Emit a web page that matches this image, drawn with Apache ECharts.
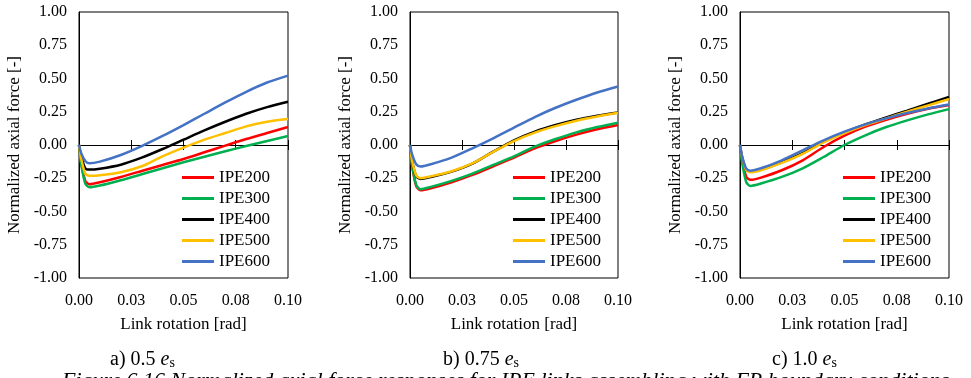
<!DOCTYPE html>
<html>
<head>
<meta charset="utf-8">
<script src="https://cdn.jsdelivr.net/npm/echarts@6/dist/echarts.min.js"></script>
<style>
  html, body { margin: 0; padding: 0; background: #fff; }
  #chart { width: 971px; height: 378px; }
</style>
</head>
<body>
<div id="chart"></div>
<script>
// Link rotation samples [rad]
const rotation = [0, 0.001, 0.003, 0.005, 0.01, 0.02, 0.03, 0.04, 0.05, 0.06, 0.07, 0.08, 0.09, 0.10];

const sections = ['IPE200', 'IPE300', 'IPE400', 'IPE500', 'IPE600'];
const sectionColors = ['#FF0000', '#00B050', '#000000', '#FFC000', '#4472C4'];

// a) 0.5 es
const a_IPE200 = [0, -0.13, -0.27, -0.295, -0.28, -0.24, -0.195, -0.15, -0.105, -0.055, -0.005, 0.045, 0.09, 0.135];
const a_IPE300 = [0, -0.14, -0.29, -0.318, -0.305, -0.265, -0.22, -0.175, -0.13, -0.088, -0.047, -0.008, 0.03, 0.068];
const a_IPE400 = [0, -0.08, -0.175, -0.185, -0.178, -0.148, -0.095, -0.03, 0.04, 0.11, 0.175, 0.235, 0.285, 0.325];
const a_IPE500 = [0, -0.10, -0.215, -0.232, -0.228, -0.205, -0.16, -0.085, -0.02, 0.04, 0.09, 0.14, 0.175, 0.195];
const a_IPE600 = [0, -0.06, -0.12, -0.138, -0.125, -0.075, -0.008, 0.068, 0.15, 0.235, 0.32, 0.40, 0.47, 0.522];

// b) 0.75 es
const b_IPE200 = [0, -0.15, -0.31, -0.34, -0.325, -0.28, -0.225, -0.16, -0.095, -0.025, 0.03, 0.078, 0.118, 0.15];
const b_IPE300 = [0, -0.15, -0.30, -0.332, -0.315, -0.27, -0.215, -0.15, -0.085, -0.012, 0.045, 0.095, 0.135, 0.168];
const b_IPE400 = [0, -0.12, -0.235, -0.255, -0.24, -0.20, -0.14, -0.05, 0.035, 0.10, 0.15, 0.19, 0.22, 0.245];
const b_IPE500 = [0, -0.12, -0.23, -0.25, -0.236, -0.197, -0.138, -0.052, 0.03, 0.093, 0.142, 0.183, 0.215, 0.242];
const b_IPE600 = [0, -0.07, -0.145, -0.162, -0.145, -0.095, -0.025, 0.05, 0.13, 0.21, 0.28, 0.34, 0.395, 0.44];

// c) 1.0 es
const c_IPE200 = [0, -0.11, -0.24, -0.262, -0.245, -0.19, -0.115, -0.015, 0.07, 0.138, 0.19, 0.235, 0.272, 0.30];
const c_IPE300 = [0, -0.13, -0.28, -0.308, -0.29, -0.24, -0.175, -0.09, 0.0, 0.073, 0.135, 0.185, 0.23, 0.27];
const c_IPE400 = [0, -0.09, -0.185, -0.20, -0.185, -0.13, -0.062, 0.025, 0.095, 0.155, 0.208, 0.258, 0.31, 0.362];
const c_IPE500 = [0, -0.09, -0.19, -0.205, -0.19, -0.135, -0.067, 0.02, 0.09, 0.15, 0.20, 0.25, 0.298, 0.345];
const c_IPE600 = [0, -0.085, -0.178, -0.193, -0.175, -0.115, -0.04, 0.035, 0.10, 0.155, 0.20, 0.24, 0.275, 0.305];

const xTickLabels = ['0.00', '0.03', '0.05', '0.08', '0.10'];
const yTickLabels = ['-1.00', '-0.75', '-0.50', '-0.25', '0.00', '0.25', '0.50', '0.75', '1.00'];

const panelTitles = ['a) 0.5 ', 'b) 0.75 ', 'c) 1.0 '];
const xAxisTitle = 'Link rotation [rad]';
const yAxisTitle = 'Normalized axial force [-]';
const captionText = 'Figure 6.16 Normalized axial force responses for IPE links assembling with FR boundary conditions';

const panels = [
  [a_IPE200, a_IPE300, a_IPE400, a_IPE500, a_IPE600],
  [b_IPE200, b_IPE300, b_IPE400, b_IPE500, b_IPE600],
  [c_IPE200, c_IPE300, c_IPE400, c_IPE500, c_IPE600]
];

// layout of the three plot areas
const plotLeft = [79, 410, 740];
const plotWidth = [209, 208, 209];
const plotTop = 12;
const plotHeight = 266;
const legendLeft = [177, 508, 838];
const titleCenter = [148, 481, 810];

const FONT = '"Liberation Serif", "Times New Roman", serif';

const grids = [], xAxes = [], yAxes = [], series = [], legends = [], graphics = [];

panels.forEach((panel, p) => {
  grids.push({
    left: plotLeft[p], top: plotTop, width: plotWidth[p], height: plotHeight,
    show: true, borderColor: '#000', borderWidth: 1, backgroundColor: 'transparent'
  });

  // visible value axis on the left
  yAxes.push({
    type: 'value', gridIndex: p, min: -1, max: 1, interval: 0.25,
    position: 'left',
    name: yAxisTitle, nameLocation: 'middle', nameGap: 56,
    nameTextStyle: { fontFamily: FONT, fontSize: 17, color: '#000' },
    axisLine: { show: true, onZero: false, lineStyle: { color: '#000' } },
    axisTick: { show: false },
    splitLine: { show: false },
    axisLabel: {
      fontFamily: FONT, fontSize: 16, color: '#000', margin: 12,
      formatter: v => yTickLabels[Math.round((v + 1) / 0.25)]
    }
  });
  // companion value axis so a second zero line can sit on it
  yAxes.push({
    type: 'value', gridIndex: p, min: -1, max: 1, interval: 0.25,
    position: 'right',
    axisLine: { show: false, onZero: false },
    axisTick: { show: false },
    axisLabel: { show: false },
    splitLine: { show: false }
  });

  // labelled bottom axis
  xAxes.push({
    type: 'value', gridIndex: p, min: 0, max: 0.1, interval: 0.025,
    position: 'bottom',
    name: xAxisTitle, nameLocation: 'middle', nameGap: 38,
    nameTextStyle: { fontFamily: FONT, fontSize: 17, color: '#000' },
    axisLine: { show: false, onZero: false },
    axisTick: { show: false },
    splitLine: { show: false },
    axisLabel: {
      fontFamily: FONT, fontSize: 16, color: '#000', margin: 15,
      formatter: v => xTickLabels[Math.round(v / 0.025)]
    }
  });
  // zero line with ticks on one side
  xAxes.push({
    type: 'value', gridIndex: p, min: 0, max: 0.1, interval: 0.025,
    position: 'top',
    axisLine: { show: true, onZero: true, onZeroAxisIndex: p * 2, lineStyle: { color: '#000', width: 1 } },
    axisTick: { show: true, length: 5, lineStyle: { color: '#000', width: 1 } },
    axisLabel: { show: false },
    splitLine: { show: false }
  });
  // zero line with ticks on the other side
  xAxes.push({
    type: 'value', gridIndex: p, min: 0, max: 0.1, interval: 0.025,
    position: 'bottom',
    axisLine: { show: true, onZero: true, onZeroAxisIndex: p * 2 + 1, lineStyle: { color: '#000', width: 1 } },
    axisTick: { show: true, length: 5, lineStyle: { color: '#000', width: 1 } },
    axisLabel: { show: false },
    splitLine: { show: false }
  });

  panel.forEach((vals, s) => {
    series.push({
      type: 'line', name: sections[s],
      xAxisIndex: p * 3, yAxisIndex: p * 2,
      data: rotation.map((x, i) => [x, vals[i]]),
      symbol: 'none', smooth: 0.25,
      lineStyle: { color: sectionColors[s], width: 2.5 },
      itemStyle: { color: sectionColors[s] },
      z: 3 + s
    });
  });

  legends.push({
    orient: 'vertical', left: legendLeft[p], top: 164,
    data: sections, icon: 'rect', itemWidth: 32, itemHeight: 3, itemGap: 4,
    textStyle: { fontFamily: FONT, fontSize: 17, color: '#000' },
    selectedMode: false
  });

  graphics.push({
    type: 'text', left: titleCenter[p] - 38, top: 350,
    style: {
      text: panelTitles[p] + '{e|e}{s|s}',
      font: '20px ' + FONT, fill: '#000',
      rich: {
        e: { fontFamily: FONT, fontSize: 20, fontStyle: 'italic', fill: '#000' },
        s: { fontFamily: FONT, fontSize: 14, fill: '#000', verticalAlign: 'bottom', padding: [6, 0, 0, 0] }
      }
    }
  });
});

graphics.push({
  type: 'text', left: 62, top: 370,
  style: { text: captionText, font: 'italic 22px ' + FONT, fill: '#000' }
});

const chart = echarts.init(document.getElementById('chart'), null, { renderer: 'canvas' });
chart.setOption({
  backgroundColor: '#fff',
  animation: false,
  grid: grids,
  xAxis: xAxes,
  yAxis: yAxes,
  legend: legends,
  series: series,
  graphic: graphics
});
</script>
</body>
</html>
